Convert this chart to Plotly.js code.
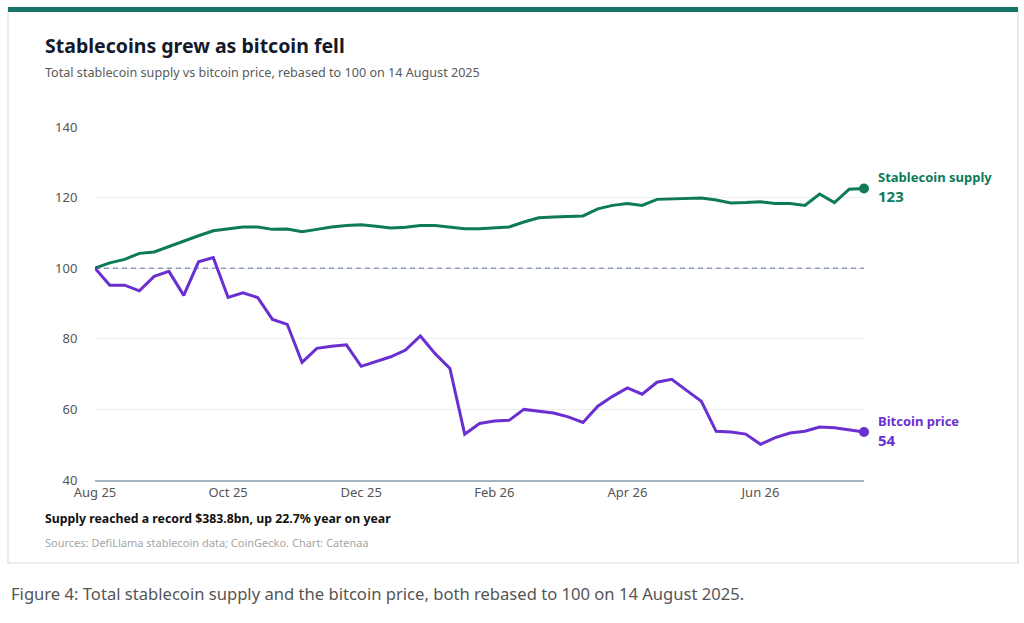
<!DOCTYPE html>
<html>
<head>
<meta charset="utf-8">
<script src="https://cdn.plot.ly/plotly-3.0.1.min.js"></script>
<style>
  html, body { margin: 0; padding: 0; background: #ffffff; }
  #chart { width: 1024px; height: 623px; }
</style>
</head>
<body>
<div id="chart"></div>
<script>
// Weekly observations, rebased to 100 on 14 August 2025
const weeks = [
  "2025-08-14","2025-08-21","2025-08-28","2025-09-04","2025-09-11","2025-09-18","2025-09-25",
  "2025-10-02","2025-10-09","2025-10-16","2025-10-23","2025-10-30","2025-11-06","2025-11-13",
  "2025-11-20","2025-11-27","2025-12-04","2025-12-11","2025-12-18","2025-12-25","2026-01-01",
  "2026-01-08","2026-01-15","2026-01-22","2026-01-29","2026-02-05","2026-02-12","2026-02-19",
  "2026-02-26","2026-03-05","2026-03-12","2026-03-19","2026-03-26","2026-04-02","2026-04-09",
  "2026-04-16","2026-04-23","2026-04-30","2026-05-07","2026-05-14","2026-05-21","2026-05-28",
  "2026-06-04","2026-06-11","2026-06-18","2026-06-25","2026-07-02","2026-07-09","2026-07-16",
  "2026-07-23","2026-07-30","2026-08-06","2026-08-13"
];
const stablecoinSupply = [
  100.0,101.5,102.5,104.2,104.6,106.2,107.7,109.2,110.6,111.2,111.7,111.7,111.0,111.1,
  110.3,111.0,111.7,112.1,112.3,111.9,111.4,111.6,112.1,112.1,111.7,111.2,111.2,111.4,
  111.7,113.1,114.3,114.5,114.7,114.8,116.8,117.8,118.3,117.8,119.5,119.6,119.7,119.9,
  119.3,118.5,118.6,118.8,118.3,118.3,117.8,121.0,118.6,122.4,122.6
];
const bitcoinPrice = [
  100.0,95.2,95.2,93.6,97.7,99.1,92.3,101.8,103.0,91.7,93.0,91.7,85.5,84.1,
  73.3,77.3,77.9,78.3,72.2,73.6,74.9,76.8,80.8,75.8,71.6,53.0,56.0,56.7,
  56.9,60.0,59.6,59.0,57.9,56.3,60.9,63.7,66.1,64.3,67.7,68.5,65.4,62.3,
  53.8,53.6,53.0,50.1,52.0,53.3,53.8,55.0,54.8,54.3,53.6
];
const rebaseLevel = 100;
const tickDates = ["2025-08-14","2025-10-16","2025-12-18","2026-02-19","2026-04-23","2026-06-25"];
const tickLabels = ["Aug 25","Oct 25","Dec 25","Feb 26","Apr 26","Jun 26"];
const yTicks = [40, 60, 80, 100, 120, 140];

const W = 1024, H = 623;
const px = v => v / W;            // pixel -> paper x
const py = v => 1 - v / H;        // pixel -> paper y

const green = "#0e7a58";
const purple = "#6a2fd0";
const FONT = "Noto Sans, Open Sans, sans-serif";

const last = weeks.length - 1;

const traces = [
  {
    x: [weeks[0], weeks[last]], y: [rebaseLevel, rebaseLevel], type: "scatter", mode: "lines",
    line: { color: "#8e9db5", width: 1.5, dash: "5px,4px" }, hoverinfo: "skip"
  },
  {
    x: weeks, y: stablecoinSupply, type: "scatter", mode: "lines",
    line: { color: green, width: 3 }, hoverinfo: "skip", cliponaxis: false
  },
  {
    x: weeks, y: bitcoinPrice, type: "scatter", mode: "lines",
    line: { color: purple, width: 3 }, hoverinfo: "skip", cliponaxis: false
  },
  {
    x: [weeks[last]], y: [stablecoinSupply[last]], type: "scatter", mode: "markers",
    marker: { color: green, size: 10 }, hoverinfo: "skip", cliponaxis: false
  },
  {
    x: [weeks[last]], y: [bitcoinPrice[last]], type: "scatter", mode: "markers",
    marker: { color: purple, size: 10 }, hoverinfo: "skip", cliponaxis: false
  }
];

const layout = {
  width: W, height: H,
  margin: { l: 0, r: 0, t: 0, b: 0 },
  paper_bgcolor: "#ffffff",
  plot_bgcolor: "rgba(0,0,0,0)",
  showlegend: false,
  font: { family: FONT, color: "#555555" },
  xaxis: {
    type: "category",
    categoryorder: "array", categoryarray: weeks,
    domain: [px(95), px(864)],
    range: [0, last],
    tickvals: tickDates, ticktext: tickLabels,
    showgrid: false, zeroline: false,
    showline: true, linecolor: "#a7b2c3", linewidth: 1.5,
    ticks: "", ticklen: 0,
    tickfont: { family: FONT, size: 13, color: "#555555" },
    fixedrange: true
  },
  yaxis: {
    domain: [1 - 480 / H, 1 - 127 / H],
    range: [40, 140],
    tickvals: yTicks,
    showgrid: true, gridcolor: "#eceef2", gridwidth: 1,
    zeroline: false, showline: false,
    ticks: "outside", ticklen: 14, tickcolor: "rgba(0,0,0,0)",
    tickfont: { family: FONT, size: 13, color: "#555555" },
    fixedrange: true
  },
  shapes: [
    // card border
    { type: "rect", xref: "paper", yref: "paper",
      x0: px(8), x1: px(1018), y0: py(563), y1: py(9),
      line: { color: "#dcdcdc", width: 1.2 }, fillcolor: "rgba(0,0,0,0)", layer: "below" },
    // top accent bar
    { type: "rect", xref: "paper", yref: "paper",
      x0: px(8), x1: px(1018), y0: py(12), y1: py(7),
      line: { width: 0 }, fillcolor: "#17766a", layer: "above" }
  ],
  annotations: [
    { text: "<b>Stablecoins grew as bitcoin fell</b>", xref: "paper", yref: "paper",
      x: px(43), y: py(45), xanchor: "left", yanchor: "middle", showarrow: false,
      font: { family: FONT, size: 19.5, color: "#141a2a" } },
    { text: "Total stablecoin supply vs bitcoin price, rebased to 100 on 14 August 2025",
      xref: "paper", yref: "paper", x: px(43), y: py(72), xanchor: "left", yanchor: "middle",
      showarrow: false, font: { family: FONT, size: 12.6, color: "#5a5a5a" } },
    { text: "<b>Stablecoin supply</b>", xref: "paper", yref: "y",
      x: px(876), y: stablecoinSupply[last], yshift: 11, xanchor: "left", yanchor: "middle",
      showarrow: false, font: { family: FONT, size: 13, color: green } },
    { text: "<b>" + Math.round(stablecoinSupply[last]) + "</b>", xref: "paper", yref: "y",
      x: px(876), y: stablecoinSupply[last], yshift: -8, xanchor: "left", yanchor: "middle",
      showarrow: false, font: { family: FONT, size: 15, color: green } },
    { text: "<b>Bitcoin price</b>", xref: "paper", yref: "y",
      x: px(876), y: bitcoinPrice[last], yshift: 11, xanchor: "left", yanchor: "middle",
      showarrow: false, font: { family: FONT, size: 13, color: purple } },
    { text: "<b>" + Math.round(bitcoinPrice[last]) + "</b>", xref: "paper", yref: "y",
      x: px(876), y: bitcoinPrice[last], yshift: -8, xanchor: "left", yanchor: "middle",
      showarrow: false, font: { family: FONT, size: 15, color: purple } },
    { text: "<b>Supply reached a record $383.8bn, up 22.7% year on year</b>",
      xref: "paper", yref: "paper", x: px(43), y: py(518), xanchor: "left", yanchor: "middle",
      showarrow: false, font: { family: FONT, size: 12.3, color: "#111111" } },
    { text: "Sources: DefiLlama stablecoin data; CoinGecko. Chart: Catenaa",
      xref: "paper", yref: "paper", x: px(43), y: py(542), xanchor: "left", yanchor: "middle",
      showarrow: false, font: { family: FONT, size: 11, color: "#a6a6a6" } },
    { text: "Figure 4: Total stablecoin supply and the bitcoin price, both rebased to 100 on 14 August 2025.",
      xref: "paper", yref: "paper", x: px(9), y: py(593), xanchor: "left", yanchor: "middle",
      showarrow: false, font: { family: FONT, size: 16.6, color: "#555555" } }
  ]
};

Plotly.newPlot("chart", traces, layout, { displayModeBar: false, staticPlot: true });
</script>
</body>
</html>
